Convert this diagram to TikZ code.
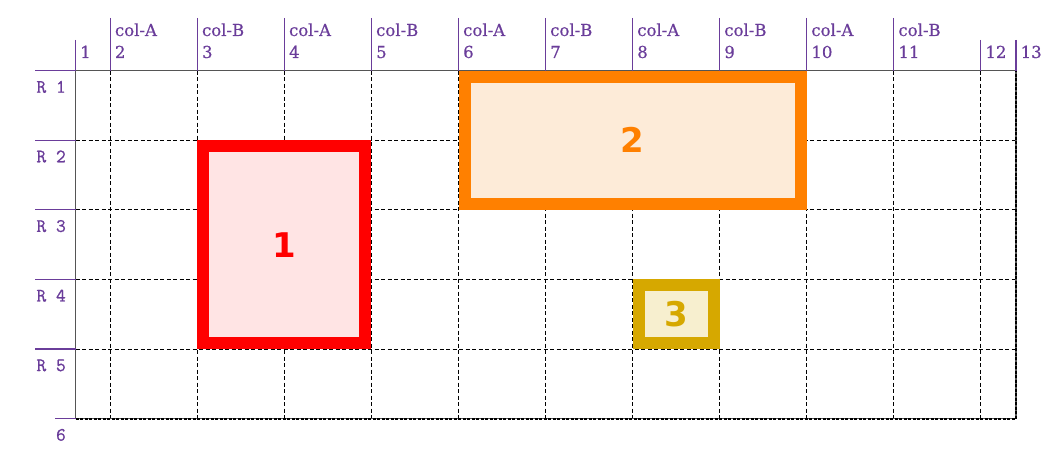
\documentclass[tikz,border=0pt]{standalone}
\usepackage{fontspec}
\newfontfamily\colfont[FakeBold=0.5]{DejaVu Serif}
\newfontfamily\rowfont[FakeBold=0.8]{Latin Modern Mono}
\newfontfamily\numfont{DejaVu Sans}
\definecolor{lblpurple}{HTML}{6A3D9A}
\definecolor{gridgray}{HTML}{555555}
\definecolor{redb}{HTML}{FF0000}
\definecolor{redf}{HTML}{FFE4E4}
\definecolor{orgb}{HTML}{FF8000}
\definecolor{orgf}{HTML}{FDEBD8}
\definecolor{gldb}{HTML}{D6A800}
\definecolor{gldf}{HTML}{F7EFCF}
\tikzset{
  gridline/.style={black, line width=0.9pt, dash pattern=on 4pt off 2.5pt},
  edgeline/.style={gridgray, line width=1.4pt},
  hdrline/.style={lblpurple, line width=1.2pt},
  collbl/.style={anchor=base west, inner sep=0pt, text=lblpurple, font=\colfont\fontsize{16.5}{16.5}\selectfont},
  rowlbl/.style={anchor=base east, inner sep=0pt, text=lblpurple, font=\rowfont\fontsize{19}{19}\selectfont},
  areabox/.style={line width=12pt, inner sep=0pt, font=\numfont\bfseries\fontsize{34}{34}\selectfont},
}
\begin{document}
\begin{tikzpicture}[x=1pt,y=-1pt]
\useasboundingbox (0,0) rectangle (1050,454);
% column x positions
\def\cx#1{\ifcase#1\or75.5\or110.3\or197.35\or284.4\or371.45\or458.5\or545.55\or632.6\or719.65\or806.7\or893.75\or980.8\or1016\fi}
\def\ry#1{\ifcase#1\or70.7\or140.3\or209.9\or279.5\or349.1\or418.7\fi}
% coordinates
\foreach \k in {1,...,13}{
  \coordinate (ct\k) at (\cx{\k},\ry{1});
  \coordinate (cb\k) at (\cx{\k},\ry{6});
}
\foreach \r in {1,...,6}{
  \coordinate (rl\r) at (\cx{1},\ry{\r});
  \coordinate (rr\r) at (\cx{13},\ry{\r});
}
% interior grid
\foreach \k in {2,...,12}{ \draw[gridline] (ct\k) -- (cb\k); }
\foreach \r in {2,...,5}{ \draw[gridline] (rl\r) -- (rr\r); }
% outer edges
\draw[edgeline] (rl6) -- (rl1) -- (rr1) -- (rr6) -- cycle;
\draw[gridline, line width=1.6pt, dash pattern=on 3pt off 1.5pt] (rl6) -- (rr6) -- (rr1);
% column header lines and labels
\foreach \k in {2,...,11}{
  \coordinate (ch\k) at (\cx{\k},18);
  \draw[hdrline] (ch\k) -- (ct\k);
  \node[collbl] (cl\k) at (\cx{\k}+4.5,36) {col-\ifodd\k B\else A\fi};
  \node[collbl] (cn\k) at (\cx{\k}+4.5,58) {\k};
}
\foreach \k in {1,12,13}{
  \coordinate (ch\k) at (\cx{\k},40);
  \draw[hdrline] (ch\k) -- (ct\k);
  \node[collbl] (cn\k) at (\cx{\k}+4.5,58) {\k};
}
% row header lines and labels
\foreach \r in {1,...,5}{
  \coordinate (rh\r) at (35,\ry{\r});
  \draw[hdrline] (rh\r) -- (rl\r);
  \node[rowlbl] (rlab\r) at (66,\ry{\r}+22) {R \r};
}
\coordinate (rh6) at (55,\ry{6});
\draw[hdrline] (rh6) -- (rl6);
\node[rowlbl] (rlab6) at (66,\ry{6}+22) {6};
% boxes
\node[areabox, draw=redb, fill=redf, text=redb, minimum width={\cx{5}-\cx{3}-12}, minimum height={\ry{5}-\ry{2}-12}]
  (box1) at ({(\cx{3}+\cx{5})/2},{(\ry{2}+\ry{5})/2}) {1};
\node[areabox, draw=orgb, fill=orgf, text=orgb, minimum width={\cx{10}-\cx{6}-12}, minimum height={\ry{3}-\ry{1}-12}]
  (box2) at ({(\cx{6}+\cx{10})/2},{(\ry{1}+\ry{3})/2}) {2};
\node[areabox, draw=gldb, fill=gldf, text=gldb, minimum width={\cx{9}-\cx{8}-12}, minimum height={\ry{5}-\ry{4}-12}]
  (box3) at ({(\cx{8}+\cx{9})/2},{(\ry{4}+\ry{5})/2}) {3};
\end{tikzpicture}
\end{document}
